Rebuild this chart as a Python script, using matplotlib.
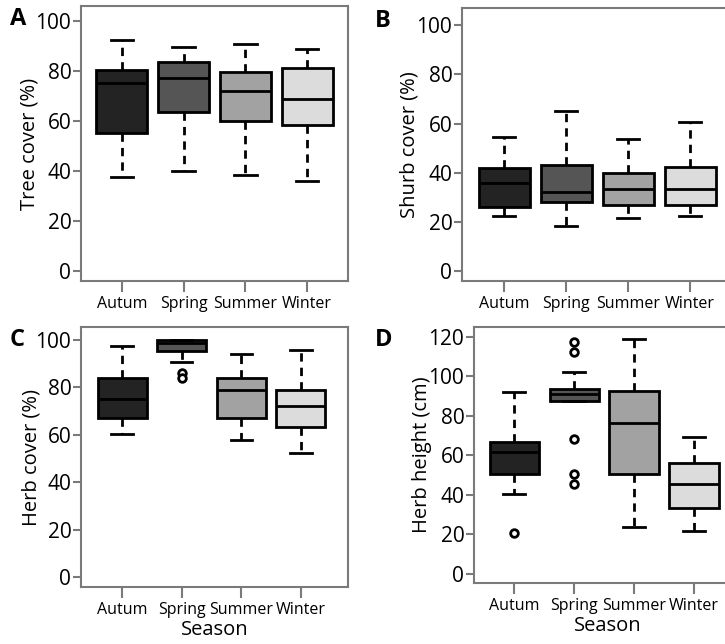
import matplotlib
matplotlib.use("Agg")
import matplotlib.pyplot as plt

plt.rcParams['font.family'] = ['Open Sans', 'DejaVu Sans']

seasons = ["Autum", "Spring", "Summer", "Winter"]
colors = ["#232323", "#555555", "#a2a2a2", "#dcdcdc"]

# per panel: whislo, q1, median, q3, whishi, outliers
tree_lo = [37.6, 40.2, 38.6, 35.9]
tree_q1 = [55.2, 63.5, 60.2, 58.4]
tree_med = [75.2, 77.2, 72.1, 68.8]
tree_q3 = [80.3, 83.8, 79.5, 81.3]
tree_hi = [92.3, 89.8, 90.7, 89.0]
tree_out = [[], [], [], []]

shrub_lo = [22.6, 18.2, 21.6, 22.6]
shrub_q1 = [26.2, 28.3, 27.0, 27.0]
shrub_med = [35.9, 32.0, 33.6, 33.6]
shrub_q3 = [42.1, 43.3, 40.1, 42.5]
shrub_hi = [54.4, 65.2, 53.8, 60.7]
shrub_out = [[], [], [], []]

herbc_lo = [60.3, 90.6, 57.9, 52.2]
herbc_q1 = [67.0, 95.4, 67.3, 63.2]
herbc_med = [75.3, 98.6, 78.9, 72.0]
herbc_q3 = [84.0, 100.0, 84.1, 78.8]
herbc_hi = [97.6, 100.0, 94.2, 95.9]
herbc_out = [[], [86.0, 83.8], [], []]

herbh_lo = [40.3, 87.4, 23.9, 21.8]
herbh_q1 = [50.4, 87.4, 50.6, 33.2]
herbh_med = [61.7, 91.2, 76.6, 45.5]
herbh_q3 = [66.8, 93.8, 92.4, 56.0]
herbh_hi = [92.0, 102.0, 118.9, 69.1]
herbh_out = [[20.9], [117.4, 112.1, 68.3, 50.4, 45.4], [], []]

panels = [
    ("A", "Tree cover (%)", tree_lo, tree_q1, tree_med, tree_q3, tree_hi, tree_out, (-4, 106), [0, 20, 40, 60, 80, 100], False),
    ("B", "Shurb cover (%)", shrub_lo, shrub_q1, shrub_med, shrub_q3, shrub_hi, shrub_out, (-4, 107), [0, 20, 40, 60, 80, 100], False),
    ("C", "Herb cover (%)", herbc_lo, herbc_q1, herbc_med, herbc_q3, herbc_hi, herbc_out, (-4.2, 105.5), [0, 20, 40, 60, 80, 100], True),
    ("D", "Herb height (cm)", herbh_lo, herbh_q1, herbh_med, herbh_q3, herbh_hi, herbh_out, (-4.6, 125), [0, 20, 40, 60, 80, 100, 120], True),
]

W, H = 725, 644
# axes rectangles in pixels: left, top, right, bottom
rects = [(81, 6, 348, 281), (462, 8, 731, 281), (81, 327, 348, 587), (474, 327, 742, 583)]
xlims = [(0.34, 4.66), (0.32, 4.66), (0.31, 4.79), (0.33, 4.8)]
letter_x = [10, 375, 10, 375]
label_x = [40, 420, 42, 432]

fig = plt.figure(figsize=(W / 100, H / 100), dpi=100)
frame_col = "#7a7a7a"

for i, (letter, ylabel, lo, q1, med, q3, hi, out, ylim, yticks, show_xlabel) in enumerate(panels):
    l, t, r, b = rects[i]
    ax = fig.add_axes([l / W, 1 - b / H, (r - l) / W, (b - t) / H])
    stats = []
    for k in range(4):
        stats.append(dict(whislo=lo[k], q1=q1[k], med=med[k], q3=q3[k], whishi=hi[k], fliers=out[k]))
    bp = ax.bxp(stats, positions=[1, 2, 3, 4], widths=0.82, patch_artist=True,
                showfliers=True,
                boxprops=dict(linewidth=2.0, edgecolor="black"),
                medianprops=dict(color="black", linewidth=2.0),
                whiskerprops=dict(color="black", linewidth=2.0, linestyle=(0, (3, 2.2))),
                capprops=dict(color="black", linewidth=2.0),
                flierprops=dict(marker="o", markerfacecolor="white", markeredgecolor="black",
                                markersize=5.5, markeredgewidth=2.0))
    for patch, c in zip(bp["boxes"], colors):
        patch.set_facecolor(c)
    for cap in bp["caps"]:
        x0, x1 = cap.get_xdata()
        cx = (x0 + x1) / 2
        cap.set_xdata([cx - 0.18, cx + 0.18])
    ax.set_xlim(*xlims[i])
    ax.set_ylim(*ylim)
    ax.set_yticks(yticks)
    ax.set_xticks([1, 2, 3, 4])
    ax.set_xticklabels(seasons, fontsize=11.5)
    ax.tick_params(axis="y", labelsize=15, length=6, width=1.5, color=frame_col, pad=1)
    ax.tick_params(axis="x", length=8, width=1.5, color=frame_col, pad=3)
    for s in ax.spines.values():
        s.set_color(frame_col)
        s.set_linewidth(1.5)
    ax.set_ylabel(ylabel, fontsize=14.5)
    ax.yaxis.set_label_coords((label_x[i] - l) / (r - l), 0.5)
    if show_xlabel:
        ax.set_xlabel("Season", fontsize=14.5, labelpad=1)
    fig.text(letter_x[i] / W, 1 - (t + 13) / H, letter, fontsize=17, fontweight="bold",
             ha="left", va="center")

fig.savefig("out.png", dpi=100)
